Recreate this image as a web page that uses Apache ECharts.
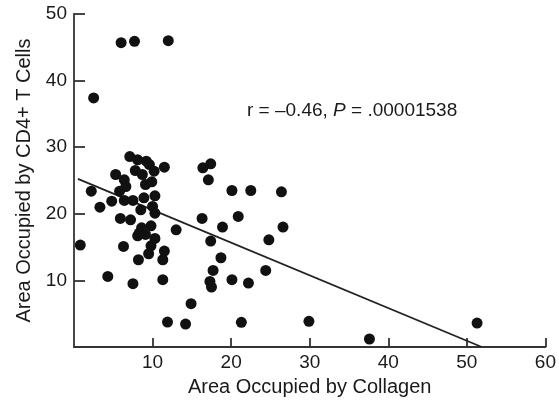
<!DOCTYPE html>
<html>
<head>
<meta charset="utf-8">
<script src="https://cdn.jsdelivr.net/npm/echarts@6/dist/echarts.min.js"></script>
<style>html,body{margin:0;padding:0;background:#fff;}#c{width:559px;height:404px;}</style>
</head>
<body>
<div id="c"></div>
<script>
// Data: Area occupied by collagen (x) vs area occupied by CD4+ T cells (y)
var collagenX = [7.1, 8.1, 9.2, 9.6, 11.5, 7.8, 10.2, 5.3, 8.7, 6.4, 9.9, 9.1, 6.6, 2.2, 5.8, 10.3, 8.9, 6.4, 7.5, 4.8,
  3.3, 10.0, 8.5, 10.3, 5.9, 7.2, 9.8, 8.6, 13.0, 8.3, 9.1, 8.1, 10.3, 0.8, 6.3, 9.8, 9.5, 11.5, 11.3, 8.2,
  4.3, 7.5, 11.3, 14.9, 11.9, 14.2, 21.3, 16.4, 17.4, 17.1, 20.1, 22.5, 16.3, 20.9, 18.9, 17.4, 18.7, 17.7, 17.3, 17.5,
  20.1, 22.2, 26.4, 26.6, 24.8, 24.4, 29.9, 37.6, 51.3, 6.0, 7.7, 12.0, 2.5];
var cd4Y = [28.6, 28.1, 27.9, 27.4, 27.0, 26.5, 26.4, 25.9, 25.9, 25.1, 24.8, 24.4, 24.1, 23.4, 23.4, 22.7, 22.4, 22.0, 22.0, 21.9,
  21.0, 21.1, 20.6, 20.1, 19.3, 19.1, 18.2, 17.9, 17.6, 17.1, 16.9, 16.7, 16.3, 15.3, 15.1, 15.2, 14.0, 14.4, 13.1, 13.1,
  10.6, 9.5, 10.1, 6.5, 3.75, 3.45, 3.7, 26.9, 27.5, 25.1, 23.5, 23.5, 19.3, 19.6, 18.0, 15.9, 13.4, 11.5, 9.85, 9.0,
  10.1, 9.6, 23.3, 18.0, 16.1, 11.5, 3.85, 1.2, 3.6, 45.7, 45.9, 46.0, 37.4];
var fitX = [0.5, 51.9];
var fitY = [25.25, 0];
var xTicks = [0, 10, 20, 30, 40, 50, 60];
var yTicks = [0, 10, 20, 30, 40, 50];
var xTitle = 'Area Occupied by Collagen';
var yTitle = 'Area Occupied by CD4+ T Cells';

var points = collagenX.map(function (x, i) { return [x, cd4Y[i]]; });
var fitLine = fitX.map(function (x, i) { return [x, fitY[i]]; });

var FONT = 'Liberation Sans, Arial, Helvetica, sans-serif';
var axisColor = '#333';
var textColor = '#1a1a1a';

var chart = echarts.init(document.getElementById('c'), null, { renderer: 'canvas' });
chart.setOption({
  animation: false,
  backgroundColor: '#fff',
  grid: { left: 74, right: 11, top: 14, bottom: 57, containLabel: false },
  xAxis: {
    type: 'value', min: xTicks[0], max: xTicks[xTicks.length - 1], interval: 10,
    name: xTitle, nameLocation: 'middle', nameGap: 30,
    nameTextStyle: { fontFamily: FONT, fontSize: 20, color: textColor },
    axisLine: { onZero: false, lineStyle: { color: axisColor, width: 1.8 } },
    axisTick: { inside: true, length: 9, lineStyle: { color: axisColor, width: 1.8 } },
    axisLabel: { showMinLabel: false, fontFamily: FONT, fontSize: 19, color: textColor, margin: 6 },
    splitLine: { show: false }
  },
  yAxis: {
    type: 'value', min: yTicks[0], max: yTicks[yTicks.length - 1], interval: 10,
    name: yTitle, nameLocation: 'middle', nameGap: 37,
    nameTextStyle: { fontFamily: FONT, fontSize: 20, color: textColor },
    axisLine: { onZero: false, lineStyle: { color: axisColor, width: 1.8 } },
    axisTick: { inside: true, length: 11, lineStyle: { color: axisColor, width: 1.8 } },
    axisLabel: { showMinLabel: false, fontFamily: FONT, fontSize: 19, color: textColor, margin: 7 },
    splitLine: { show: false }
  },
  series: [
    {
      type: 'scatter', data: points, symbol: 'circle', symbolSize: 11,
      itemStyle: { color: '#111', opacity: 1 }, z: 3
    },
    {
      type: 'line', data: fitLine, symbol: 'none', silent: true,
      lineStyle: { color: '#222', width: 1.8 }, z: 2
    }
  ],
  graphic: [{
    type: 'text', left: 247, top: 101,
    style: {
      text: '{a|r = \u20130.46, }{i|P}{a| = .00001538}',
      rich: {
        a: { fontFamily: FONT, fontSize: 19, fill: textColor },
        i: { fontFamily: FONT, fontSize: 19, fontStyle: 'italic', fill: textColor }
      }
    }
  }]
});
</script>
</body>
</html>
